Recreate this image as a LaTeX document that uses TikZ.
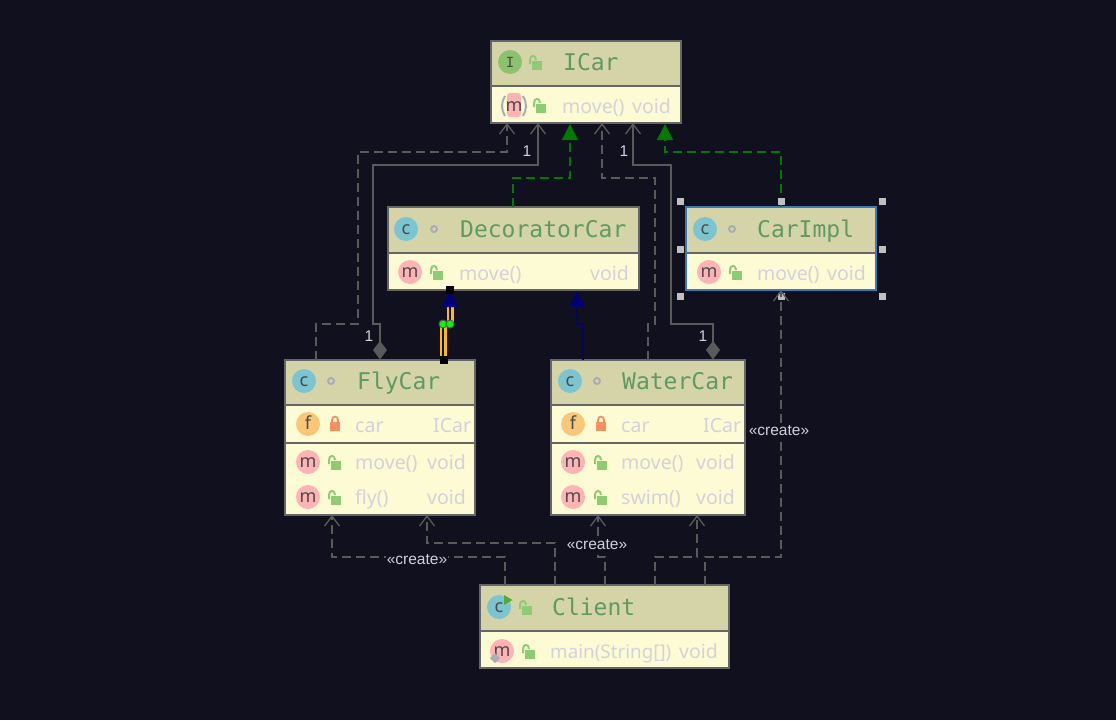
\documentclass[tikz,border=0pt]{standalone}
\usepackage{fontspec}
\setmainfont{Noto Sans}
\newfontfamily\monof{DejaVu Sans Mono}
\newfontfamily\arialf{Liberation Sans}
\usetikzlibrary{arrows.meta}
\definecolor{bgc}{HTML}{10101E}
\definecolor{headc}{HTML}{D5D4A9}
\definecolor{bodyc}{HTML}{FDFBD3}
\definecolor{borderc}{HTML}{666666}
\definecolor{linec}{HTML}{5A5A5A}
\definecolor{ttlc}{HTML}{5E9A62}
\definecolor{memc}{HTML}{D2D2DC}
\definecolor{cblue}{HTML}{7CC4D0}
\definecolor{mpink}{HTML}{FFB3B5}
\definecolor{forange}{HTML}{F8C878}
\definecolor{igreen}{HTML}{8CC26E}
\definecolor{lockg}{HTML}{8FCB72}
\definecolor{locko}{HTML}{F79060}
\definecolor{dotg}{HTML}{A9ADB4}
\definecolor{icot}{HTML}{4A4A4A}
\definecolor{gr}{HTML}{007A00}
\definecolor{nav}{HTML}{00007A}
\definecolor{selb}{HTML}{3F78B8}
\definecolor{yel}{HTML}{FFB90F}
\definecolor{handc}{HTML}{C0C0C0}
\definecolor{runc}{HTML}{55AA33}
\newcounter{nn}
\newcommand\lbl[4]{\stepcounter{nn}\node[#1] (n\arabic{nn}) at (#2,#3) {#4};}
\newcommand\cbox[7]{%
  \fill[bodyc] (#2,#3) rectangle (#4,#5);
  \fill[headc] (#2,#3) rectangle (#4,#6);
  \draw[borderc,line width=1.8pt] (#2,#6) -- (#4,#6);
  \node[boxnode,draw=#7,minimum width={#4-#2},minimum height={#5-#3}] (#1) at ({(#2+#4)/2},{(#3+#5)/2}) {};}
\newcommand\icon[4]{\fill[#3] (#1,#2) circle (12);\lbl{icl}{#1}{#2+5.5}{#4}}
\newcommand\mdot[2]{\draw[dotg,line width=2pt] (#1,#2) circle (3);}
\newcommand\unlock[2]{%
  \fill[lockg] (#1-3,#2-2) rectangle (#1+7,#2+7);
  \draw[lockg,line width=2pt] (#1-5,#2+1) -- (#1-5,#2-3) .. controls (#1-5,#2-8.5) and (#1+1,#2-8.5) .. (#1+1,#2-3);}
\newcommand\lockc[2]{%
  \fill[locko] (#1-5,#2-2) rectangle (#1+5,#2+7);
  \draw[locko,line width=1.8pt] (#1-3,#2-2) -- (#1-3,#2-4) .. controls (#1-3,#2-8.5) and (#1+3,#2-8.5) .. (#1+3,#2-4) -- (#1+3,#2-2);}
\newcommand\handle[2]{\fill[handc] (#1-3.5,#2-3.5) rectangle (#1+3.5,#2+3.5);}
\tikzset{
  boxnode/.style={rectangle,inner sep=0,outer sep=0,line width=2pt},
  ttl/.style={anchor=base west,inner sep=0,text=ttlc,font=\monof\fontsize{23}{23}\selectfont},
  mem/.style={anchor=base west,inner sep=0,text=memc,font=\fontsize{19.5}{20}\selectfont},
  memn/.style={anchor=base west,inner sep=0,text=memc,font=\fontsize{18.8}{20}\selectfont},
  icl/.style={anchor=base,inner sep=0,text=icot,font=\fontsize{18}{18}\selectfont},
  crt/.style={inner sep=1pt,fill=bgc,text=memc,font=\arialf\fontsize{15.5}{16}\selectfont},
  onel/.style={inner sep=0,text=memc,font=\arialf\fontsize{15.5}{16}\selectfont},
  dep/.style={draw=linec,line width=1.5pt,dash pattern=on 9pt off 5pt,-{Straight Barb[length=10pt,width=15pt,line width=1.3pt]}},
  asc/.style={draw=linec,line width=1.5pt,-{Straight Barb[length=10pt,width=15pt,line width=1.3pt]}},
  real/.style={draw=gr,line width=1.3pt,dash pattern=on 9pt off 5pt,-{Triangle[length=16pt,width=16pt,fill=gr]}},
  ext/.style={draw=nav!70!bgc,line width=1.2pt,-{Triangle[length=16pt,width=16pt,fill=nav]}},
  diam/.style={fill=linec},
}
\begin{document}
\begin{tikzpicture}[x=1pt,y=-1pt]
\useasboundingbox (0,0) rectangle (1116,720);
\fill[bgc] (0,0) rectangle (1116,720);
% class boxes
\cbox{icar}{491}{41}{681}{123}{86}{borderc}
\cbox{deco}{388}{207}{639}{290}{253}{borderc}
\cbox{impl}{686}{207}{876}{290}{253}{selb}
\cbox{fly}{285}{360}{475}{515}{405}{borderc}
\cbox{water}{551}{360}{745}{515}{405}{borderc}
\cbox{client}{480}{585}{729}{668}{631}{borderc}
\draw[borderc,line width=1.8pt] (285,443) -- (475,443);
\draw[borderc,line width=1.8pt] (551,443) -- (745,443);
% ICar
\icon{510}{62}{igreen}{\monof\fontsize{14}{14}\selectfont I}
\unlock{535}{63}
\lbl{ttl}{563}{70}{ICar}
\draw[dotg,line width=2pt] (505,96) .. controls (501,102) and (501,110) .. (505,116);
\draw[dotg,line width=2pt] (523,96) .. controls (527,102) and (527,110) .. (523,116);
\fill[mpink,rounded corners=3pt] (507,93) rectangle (521,117);
\lbl{icl}{514}{111.5}{m}
\unlock{539}{106}
\lbl{mem}{562}{113}{move()}
\lbl{mem}{632}{113}{void}
% DecoratorCar
\icon{406}{229}{cblue}{c}
\mdot{434}{229}
\lbl{ttl}{460}{237}{DecoratorCar}
\icon{410}{272}{mpink}{m}
\unlock{436}{273}
\lbl{mem}{459}{280}{move()}
\lbl{mem}{590}{280}{void}
% CarImpl
\icon{705}{229}{cblue}{c}
\mdot{732}{229}
\lbl{ttl}{757}{237}{CarImpl}
\icon{709}{272}{mpink}{m}
\unlock{735}{273}
\lbl{mem}{757}{280}{move()}
\lbl{mem}{827}{280}{void}
% FlyCar
\icon{304}{381}{cblue}{c}
\mdot{331}{381}
\lbl{ttl}{357}{389}{FlyCar}
\icon{308}{424}{forange}{f}
\lockc{335}{424}
\lbl{mem}{355}{432}{car}
\lbl{mem}{433}{432}{ICar}
\icon{308}{462}{mpink}{m}
\unlock{334}{463}
\lbl{mem}{355}{469}{move()}
\lbl{mem}{427}{469}{void}
\icon{308}{497}{mpink}{m}
\unlock{334}{498}
\lbl{mem}{355}{504}{fly()}
\lbl{mem}{427}{504}{void}
% WaterCar
\icon{570}{381}{cblue}{c}
\mdot{597}{381}
\lbl{ttl}{622}{389}{WaterCar}
\icon{573}{424}{forange}{f}
\lockc{601}{424}
\lbl{mem}{621}{432}{car}
\lbl{mem}{703}{432}{ICar}
\icon{573}{462}{mpink}{m}
\unlock{600}{463}
\lbl{mem}{621}{469}{move()}
\lbl{mem}{696}{469}{void}
\icon{573}{497}{mpink}{m}
\unlock{600}{498}
\lbl{mem}{621}{504}{swim()}
\lbl{mem}{696}{504}{void}
% Client
\icon{499}{607}{cblue}{c}
\fill[runc] (504,595) -- (512.5,600) -- (504,605) -- cycle;
\unlock{525}{608}
\lbl{ttl}{552}{615}{Client}
\icon{502}{651}{mpink}{m}
\fill[dotg] (495,653) -- (500,658) -- (495,663) -- (490,658) -- cycle;
\unlock{528}{652}
\lbl{memn}{550}{658}{main(String[])}
\lbl{mem}{679}{658}{void}
\handle{781}{296}
% connectors
\draw[dep] ([xshift=-64]fly.north) -- (316,324) -- (358,324) -- (358,152) -- (507,152) -- ([xshift=-79]icar.south);
\draw[asc] ([yshift=10]fly.north) -- (380,324) -- (373,324) -- (373,165) -- (538,165) -- ([xshift=-48]icar.south);
\fill[diam] (380,341) -- (387,350) -- (380,359.5) -- (373,350) -- cycle;
\draw[real] ([xshift=-0.5]deco.north) -- (513,178) -- (570,178) -- ([xshift=-16,yshift=-1]icar.south);
\draw[real] (impl.north) -- (781,152) -- (665,152) -- ([xshift=79,yshift=-1]icar.south);
\draw[dep] (water.north) -- (648,324) -- (655,324) -- (655,178) -- (602,178) -- ([xshift=16]icar.south);
\draw[asc] ([xshift=65,yshift=10]water.north) -- (713,324) -- (671,324) -- (671,165) -- (633,165) -- ([xshift=47]icar.south);
\fill[diam] (713,341) -- (720,350) -- (713,359.5) -- (706,350) -- cycle;
\draw[ext] ([xshift=-65]water.north) -- (583,324) -- (577,324) -- ([xshift=63.5,yshift=-1]deco.south);
% selected inheritance
\draw[yel,line width=7pt] ([xshift=63]fly.north) -- (443,324);
\draw[nav!40!bgc,line width=2pt] ([xshift=63]fly.north) -- (443,324);
\draw[yel,line width=7pt] (450,324) -- (450,300);
\draw[nav!40!bgc,line width=2pt] (450,324) -- (450,300);
\fill[nav] (450,291) -- (458,307) -- (442,307) -- cycle;
\fill[black] (439.5,356) rectangle (447.5,364);
\fill[black] (446,286) rectangle (454,294);
\filldraw[fill=green,draw=linec,line width=1pt] (443,324) circle (4);
\filldraw[fill=green,draw=linec,line width=1pt] (450,324) circle (4);
% client dependencies
\draw[dep] ([xshift=-99.5]client.north) -- (505,557) -- (332,557) -- ([xshift=-48]fly.south);
\draw[dep] ([xshift=-49.5]client.north) -- (555,543) -- (427,543) -- ([xshift=47]fly.south);
\draw[dep] ([xshift=0.5]client.north) -- (605,557) -- (598,557) -- ([xshift=-50]water.south);
\draw[dep] ([xshift=50.5]client.north) -- (655,557) -- (697,557) -- ([xshift=49]water.south);
\draw[dep] ([xshift=100.5]client.north) -- (705,557) -- (781,557) -- (impl.south);
% labels
\lbl{crt}{417}{560}{«create»}
\lbl{crt}{597}{545}{«create»}
\lbl{crt}{779}{431}{«create»}
\lbl{onel}{527}{151}{1}
\lbl{onel}{624}{151}{1}
\lbl{onel}{369}{336}{1}
\lbl{onel}{703}{336}{1}
% selection handles
\handle{680}{201}\handle{781}{201}\handle{882}{201}
\handle{680}{249}\handle{882}{249}
\handle{680}{296}\handle{882}{296}
\end{tikzpicture}
\end{document}
